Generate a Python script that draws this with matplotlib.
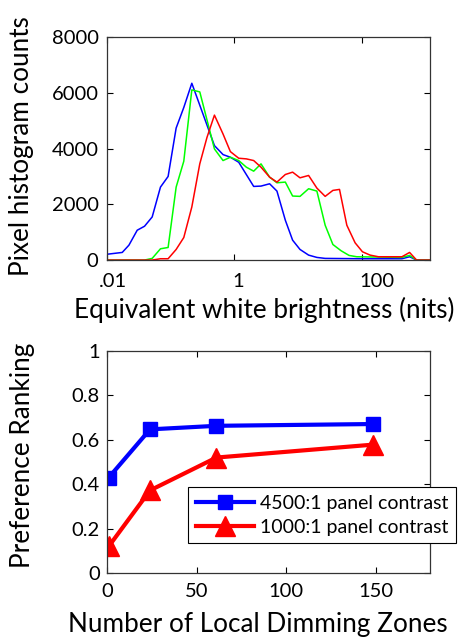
import numpy as np
import matplotlib
matplotlib.use("Agg")
import matplotlib.pyplot as plt
import matplotlib.transforms as mtrans
from matplotlib.ticker import FixedLocator, NullLocator

plt.rcParams['font.family'] = ['Lato', 'DejaVu Sans']

# histogram data (log10 of brightness, counts)
blue_logx = [-1.98, -1.76, -1.655, -1.525, -1.41, -1.29, -1.16, -1.04, -0.914, -0.794,
             -0.668, -0.313, -0.178, -0.063, 0.068, 0.303, 0.418, 0.553, 0.668, 0.80,
             0.914, 1.03, 1.165, 1.295, 1.425, 2.0, 2.63, 2.75, 2.86, 3.07]
blue_counts = [214, 274, 535, 1071, 1214, 1547, 2618, 3000, 4736, 5474,
               6343, 4106, 3784, 3689, 3510, 2642, 2654, 2737, 2475, 1428,
               714, 381, 178, 95, 60, 48, 48, 119, 0, 0]

green_logx = [-1.98, -1.41, -1.29, -1.16, -1.04, -0.914, -0.794, -0.668, -0.543, -0.313,
              -0.178, -0.063, 0.068, 0.188, 0.303, 0.418, 0.553, 0.668, 0.80, 0.914,
              1.03, 1.165, 1.295, 1.425, 1.546, 1.676, 1.80, 1.92, 2.63, 2.75, 2.86, 3.07]
green_counts = [0, 0, 60, 405, 452, 2618, 3546, 6105, 6033, 3987,
                3570, 3689, 3570, 3332, 3189, 3451, 2975, 2773, 2797, 2297,
                2285, 2559, 2475, 1250, 559, 333, 167, 119, 95, 167, 0, 0]

red_logx = [-1.98, -1.29, -1.16, -1.04, -0.914, -0.794, -0.668, -0.543, -0.43, -0.313,
            -0.178, -0.063, 0.068, 0.188, 0.303, 0.418, 0.553, 0.668, 0.80, 0.914,
            1.03, 1.165, 1.295, 1.425, 1.546, 1.65, 1.765, 1.895, 2.01, 2.13,
            2.26, 2.63, 2.75, 2.86, 3.07]
red_counts = [0, 0, 48, 48, 381, 809, 1904, 3452, 4400, 5200,
              4522, 3891, 3653, 3630, 3570, 3332, 2975, 2797, 3070, 3154,
              2951, 3035, 2582, 2285, 2499, 2535, 1250, 619, 298, 178,
              119, 119, 274, 0, 0]

hist_ticks = [0.01, 1, 100]
hist_ticklabels = ['.01', '1', '100']

# preference ranking data
zones = [1, 24, 61, 148]
pref_4500 = [0.43, 0.647, 0.663, 0.671]
pref_1000 = [0.12, 0.372, 0.52, 0.578]
label_4500 = "4500:1 panel contrast"
label_1000 = "1000:1 panel contrast"

fig = plt.figure(figsize=(4.61, 6.39), dpi=100)

# ---- top: histogram
ax1 = fig.add_axes([0.232, 0.593, 0.7007, 0.349])
ax1.plot(10 ** np.array(blue_logx), blue_counts, color=(0, 0, 1), lw=1.1)
ax1.plot(10 ** np.array(green_logx), green_counts, color=(0, 1, 0), lw=1.1)
ax1.plot(10 ** np.array(red_logx), red_counts, color=(1, 0, 0), lw=1.1)
ax1.set_xscale('log')
ax1.set_xlim(0.01, 10 ** 3.07)
ax1.set_ylim(0, 8000)
ax1.xaxis.set_major_locator(FixedLocator(hist_ticks))
ax1.xaxis.set_minor_locator(NullLocator())
ax1.set_xticklabels(hist_ticklabels)
ax1.set_yticks([0, 2000, 4000, 6000, 8000])
ax1.set_ylabel('Pixel histogram counts', fontsize=18.8)
ax1.set_xlabel('Equivalent white brightness (nits)', fontsize=18.8)
ax1.xaxis.set_label_coords(0.486, -0.224)
ax1.yaxis.set_label_coords(-0.263, 0.511)

# ---- bottom: preference ranking
ax2 = fig.add_axes([0.232, 0.1033, 0.7007, 0.3474])
ax2.plot(zones, pref_4500, color=(0, 0, 1), lw=3, marker='s', ms=10, label=label_4500)
ax2.plot(zones, pref_1000, color=(1, 0, 0), lw=3, marker='^', ms=14.5, label=label_1000)
ax2.set_xlim(0, 180)
ax2.set_ylim(0, 1)
ax2.set_xticks([0, 50, 100, 150])
ax2.set_yticks([0, 0.2, 0.4, 0.6, 0.8, 1])
ax2.set_yticklabels(['0', '0.2', '0.4', '0.6', '0.8', '1'])
ax2.set_ylabel('Preference Ranking', fontsize=18.8)
ax2.set_xlabel('Number of Local Dimming Zones', fontsize=18.8)
ax2.xaxis.set_label_coords(0.467, -0.234)
ax2.yaxis.set_label_coords(-0.260, 0.532)
leg = ax2.legend(loc='upper left', bbox_to_anchor=(0.251, 0.387), fontsize=14,
                 frameon=True, fancybox=False, edgecolor='black', framealpha=1,
                 handlelength=3.0, handletextpad=0.3, borderpad=0.4,
                 labelspacing=0.35, borderaxespad=0)
leg.get_frame().set_linewidth(0.8)

for ax in (ax1, ax2):
    ax.tick_params(direction='in', top=True, right=True, labelsize=14.5, length=4, width=0.8)
    ax.xaxis.label.set_va('center')
    ax.yaxis.label.set_va('center')
    for s in ax.spines.values():
        s.set_linewidth(0.9)
        s.set_color('#333333')
ax1.tick_params(axis='x', pad=9)
ax1.tick_params(axis='y', pad=6)
ax2.tick_params(axis='x', pad=7)
ax2.tick_params(axis='y', pad=5)

# the histogram's tick labels sit a little right of their ticks
for lab, dx in zip(ax1.get_xticklabels(), [6, 4, 15]):
    lab.set_transform(lab.get_transform() + mtrans.ScaledTranslation(dx / 100, 0, fig.dpi_scale_trans))

fig.savefig('out.png', dpi=100)
